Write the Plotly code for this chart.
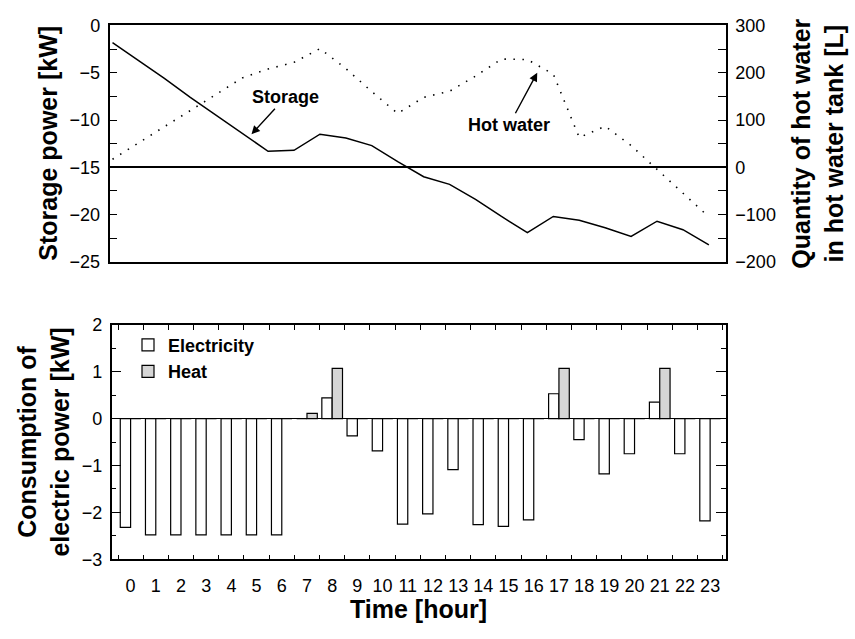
import plotly.graph_objects as go

hours = list(range(24))
hour_labels = [str(h) for h in hours]

storage_kw = [-1.8, -3.7, -5.6, -7.6, -9.5, -11.4, -13.3, -13.2, -11.5, -11.9, -12.7, -14.4,
              -16.0, -16.8, -18.4, -20.2, -21.9, -20.2, -20.6, -21.4, -22.3, -20.7, -21.6, -23.2]
hot_water_l = [17, 52, 86, 120, 155, 189, 208, 222, 251, 209, 160, 114,
               148, 161, 193, 229, 228, 197, 63, 87, 46, -4, -55, -105]

electricity_kw = [-2.32, -2.48, -2.48, -2.48, -2.48, -2.48, -2.48, 0.0, 0.44, -0.37, -0.69, -2.25,
                  -2.03, -1.09, -2.26, -2.30, -2.16, 0.53, -0.45, -1.18, -0.75, 0.35, -0.75, -2.18]
heat_kw = [0, 0, 0, 0, 0, 0, 0, 0.11, 1.07, 0, 0, 0,
           0, 0, 0, 0, 0, 1.07, 0, 0, 0, 1.07, 0, 0]

W, H = 855, 639
FONT = "Arial, Liberation Sans, sans-serif"

def px(x):
    return x / W

def py(y):
    return 1 - y / H

fig = go.Figure()

# Top chart
fig.add_trace(go.Scatter(x=hours, y=storage_kw, mode="lines", name="Storage",
                         line=dict(color="black", width=1.5), xaxis="x", yaxis="y",
                         showlegend=False))
fig.add_trace(go.Scatter(x=hours, y=hot_water_l, mode="lines", name="Hot water",
                         line=dict(color="black", width=1.6, dash="1.5px,7.5px"),
                         xaxis="x", yaxis="y2", showlegend=False))

# Bottom chart
fig.add_trace(go.Bar(x=hour_labels, y=electricity_kw, name="Electricity",
                     marker=dict(color="white", line=dict(color="black", width=1.2)),
                     xaxis="x3", yaxis="y3"))
fig.add_trace(go.Bar(x=hour_labels, y=heat_kw, name="Heat",
                     marker=dict(color="#d6d6d6", line=dict(color="black", width=1.2)),
                     xaxis="x3", yaxis="y3"))

axis_common = dict(showline=True, linecolor="black", linewidth=1.5, showgrid=False,
                   tickfont=dict(family=FONT, size=18, color="black"),
                   tickcolor="black")

fig.update_layout(
    width=W, height=H,
    margin=dict(l=0, r=0, t=0, b=0),
    paper_bgcolor="white", plot_bgcolor="white",
    font=dict(family=FONT, color="black"),
    barmode="group", bargap=0.18, bargroupgap=0,
    xaxis=dict(axis_common, domain=[px(109.5), px(726)], range=[-0.116, 23.66],
               anchor="y", mirror=True, showticklabels=False, ticks="", zeroline=False),
    yaxis=dict(axis_common, domain=[py(260), py(16)], range=[-25, 0], anchor="x",
               tick0=0, dtick=5, ticks="inside", ticklen=8, tickwidth=1.2, zeroline=False,
               minor=dict(dtick=2.5, tick0=0, ticks="inside", ticklen=8, tickwidth=1.2, tickcolor="black"),
               ticklabelstandoff=4),
    yaxis2=dict(axis_common, overlaying="y", side="right", anchor="x", range=[-200, 300],
                tick0=0, dtick=100, ticks="inside", ticklen=8, tickwidth=1.2,
                minor=dict(dtick=50, tick0=0, ticks="inside", ticklen=8, tickwidth=1.2, tickcolor="black"),
                zeroline=True, zerolinecolor="black", zerolinewidth=1.5,
                ticklabelstandoff=4),
    xaxis3=dict(axis_common, domain=[px(111.7), px(726)], anchor="y3", type="category",
                range=[-0.75, 23.63], tickson="boundaries", ticks="inside", ticklen=5,
                tickwidth=1.2, tickangle=0, mirror="allticks", zeroline=False, ticklabelstandoff=9),
    yaxis3=dict(axis_common, domain=[py(567), py(325)], anchor="x3", range=[-3, 2],
                tick0=0, dtick=1, ticks="inside", ticklen=10, tickwidth=1.2, mirror="allticks",
                minor=dict(dtick=0.5, tick0=0, ticks="inside", ticklen=5, tickwidth=1.2, tickcolor="black"),
                zeroline=True, zerolinecolor="black", zerolinewidth=1.2, ticklabelstandoff=4),
    legend=dict(x=px(128), y=py(327), xanchor="left", yanchor="top",
                font=dict(family=FONT, size=18, color="black", weight="bold"),
                bgcolor="rgba(0,0,0,0)", tracegroupgap=0, itemwidth=30),
)

title_font = dict(family=FONT, size=25, color="black")
annotations = [
    dict(text="<b>Storage power [kW]</b>", x=px(48), y=py(138), textangle=-90),
    dict(text="<b>Quantity of hot water<br>in hot water tank [L]</b>", x=px(818), y=py(138), textangle=-90),
    dict(text="<b>Consumption of<br>electric power [kW]</b>", x=px(43.5), y=py(446), textangle=-90),
    dict(text="<b>Time [hour]</b>", x=px(418.5), y=py(618), textangle=0),
]
for a in annotations:
    fig.add_annotation(xref="paper", yref="paper", xanchor="center", yanchor="middle",
                       showarrow=False, font=title_font, **a)

fig.add_annotation(text="<b>Storage</b>", x=5.36, y=-11.5, xref="x", yref="y",
                   ax=34, ay=-37, showarrow=True,
                   arrowhead=2, arrowsize=1.2, arrowwidth=1.4, arrowcolor="black",
                   font=dict(family=FONT, size=18, color="black"))
fig.add_annotation(text="<b>Hot water</b>", x=16.38, y=-5.0, xref="x", yref="y",
                   ax=-28, ay=52, showarrow=True,
                   arrowhead=2, arrowsize=1.2, arrowwidth=1.4, arrowcolor="black",
                   font=dict(family=FONT, size=18, color="black"))

fig.write_html("out.html")
